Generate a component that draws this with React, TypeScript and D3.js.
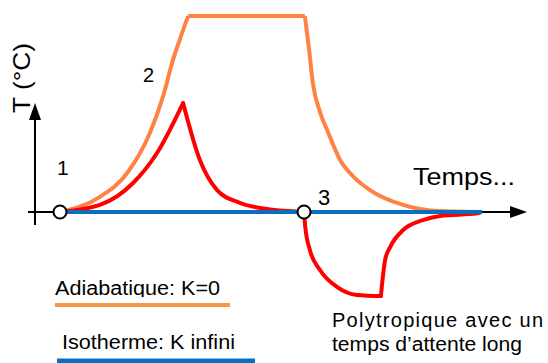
import * as d3 from 'd3';

// time (arbitrary units 0..10) vs temperature (0 = ambient, 100 = adiabatic plateau)
type Pt = [number, number];

const adiabRise: Pt[] = [[0, 0], [0.95, 7.7], [1.6, 19.9], [2.14, 40.3], [2.45, 58.7], [2.69, 77.6], [2.86, 88.5], [3.05, 100]];
const adiabPlateau: Pt[] = [[3.05, 100], [5.83, 100]];
const adiabFall: Pt[] = [[5.83, 100], [5.93, 83], [6.02, 65.8], [6.19, 51], [6.36, 41.8], [6.67, 26.5], [7.02, 17.3], [7.38, 11.2], [8.17, 3.6], [8.98, 0.5], [10, 0]];

const polyRise: Pt[] = [[0, 0], [0.95, 3.6], [1.74, 14.8], [2.31, 30.1], [2.93, 55.6]];
const polyFall: Pt[] = [[2.93, 55.6], [3.33, 26.5], [3.74, 11.2], [4.29, 4.6], [4.93, 1.5], [5.81, 0]];
const polyDrop: Pt[] = [[5.81, 0], [5.84, -7.7], [5.95, -19.4], [6.19, -29.6], [6.6, -38.3], [7.07, -42.3], [7.64, -42.9]];
const polyRecover: Pt[] = [[7.64, -42.9], [7.74, -24.5], [7.86, -17.9], [8.17, -9.2], [8.64, -4.1], [9.05, -2], [9.93, -0.7], [10, -0.3]];

const isotherm: Pt[] = [[0, 0], [10.05, 0]];

const stateMarks = [
  { label: '1', t: 0 },
  { label: '3', t: 5.81 },
];

const FONT = 'Liberation Sans, Arial, sans-serif';

export default function App() {
  const width = 548;
  const height = 363;

  const x = d3.scaleLinear().domain([0, 10]).range([60, 480]);
  const y = d3.scaleLinear().domain([0, 100]).range([212, 16]);

  const line = d3.line<Pt>()
    .x(d => x(d[0]))
    .y(d => y(d[1]))
    .curve(d3.curveMonotoneX);
  const straight = d3.line<Pt>().x(d => x(d[0])).y(d => y(d[1]));

  const y0 = y(0);
  const axisX = x(-25 / 42);

  return (
    <svg width={width} height={height} style={{ position: 'absolute', left: 0, top: 0, background: '#fff' }}>
      <defs>
        <clipPath id="legendClip">
          <rect x={0} y={0} width={width} height={297} />
        </clipPath>
      </defs>

      {/* axes */}
      <line x1={axisX} x2={axisX} y1={225} y2={118} stroke="#000" strokeWidth={2} />
      <path d={`M${axisX - 6},120 L${axisX},103 L${axisX + 6},120 Z`} fill="#000" />
      <line x1={28} x2={512} y1={y0} y2={y0} stroke="#000" strokeWidth={2} />
      <path d={`M510,${y0 - 6} L527,${y0} L510,${y0 + 6} Z`} fill="#000" />

      {/* adiabatic */}
      <path d={line(adiabRise) ?? ''} fill="none" stroke="#ff8245" strokeWidth={4} strokeLinejoin="round" />
      <path d={straight(adiabPlateau) ?? ''} fill="none" stroke="#ff8245" strokeWidth={4} />
      <path d={line(adiabFall) ?? ''} fill="none" stroke="#ff8245" strokeWidth={4} />

      {/* polytropic */}
      {[polyRise, polyFall, polyDrop, polyRecover].map((seg, i) => (
        <path key={i} d={line(seg) ?? ''} fill="none" stroke="#ff0000" strokeWidth={4} strokeLinecap="round" />
      ))}

      {/* isothermal */}
      <path d={straight(isotherm) ?? ''} fill="none" stroke="#0a6ebd" strokeWidth={4} />

      {stateMarks.map(m => (
        <circle key={m.label} cx={x(m.t)} cy={y0} r={6.5} fill="#fff" stroke="#000" strokeWidth={2} />
      ))}

      <g fontFamily={FONT} fill="#000">
        <text x={30} y={113} fontSize={24} transform="rotate(-90 30 113)" textLength={70} lengthAdjust="spacingAndGlyphs">T (°C)</text>
        <text x={57} y={175} fontSize={21}>1</text>
        <text x={143} y={82} fontSize={20}>2</text>
        <text x={318} y={205} fontSize={22}>3</text>
        <text x={413} y={185} fontSize={24} textLength={102} lengthAdjust="spacingAndGlyphs">Temps...</text>

        <text x={55} y={295} fontSize={20} textLength={165} lengthAdjust="spacingAndGlyphs" clipPath="url(#legendClip)">Adiabatique: K=0</text>
        <text x={62} y={349} fontSize={20} textLength={173} lengthAdjust="spacingAndGlyphs">Isotherme: K infini</text>

        <text x={332} y={327} fontSize={20} textLength={211} lengthAdjust="spacing">Polytropique avec un</text>
        <text x={332} y={351} fontSize={20} textLength={190} lengthAdjust="spacingAndGlyphs">temps d’attente long</text>
      </g>

      <line x1={55} x2={230} y1={305} y2={305} stroke="#f79646" strokeWidth={4} />
      <line x1={57} x2={255} y1={361} y2={361} stroke="#0a6ebd" strokeWidth={5} />
    </svg>
  );
}
